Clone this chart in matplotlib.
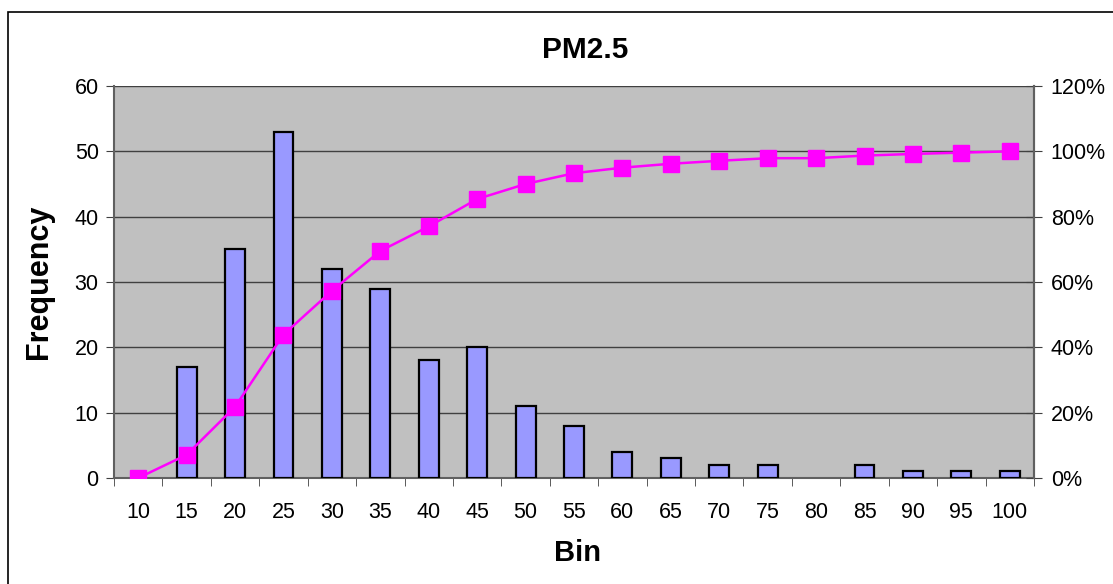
import matplotlib
matplotlib.use("Agg")
import matplotlib.pyplot as plt
from matplotlib.patches import Rectangle
from matplotlib.ticker import FixedLocator, PercentFormatter
import numpy as np

plt.rcParams['font.family'] = ['Liberation Sans', 'DejaVu Sans']

# data
bins = [10, 15, 20, 25, 30, 35, 40, 45, 50, 55, 60, 65, 70, 75, 80, 85, 90, 95, 100]
frequency = [0, 17, 35, 53, 32, 29, 18, 20, 11, 8, 4, 3, 2, 2, 0, 2, 1, 1, 1]
cumulative_pct = [0.0, 7.1, 21.8, 43.9, 57.3, 69.5, 77.0, 85.4, 90.0, 93.3,
                  95.0, 96.2, 97.1, 97.9, 97.9, 98.7, 99.2, 99.6, 100.0]

W, H = 1113, 584
fig = plt.figure(figsize=(W / 100, H / 100), dpi=100)

# outer chart frame
fig.patches.append(Rectangle((8 / W, -0.1), 1.2, 1 - 12 / H + 0.1, transform=fig.transFigure,
                             fill=False, edgecolor='black', linewidth=1.2))

ax = fig.add_axes([114 / W, 1 - 478 / H, 920 / W, 392 / H])
ax.set_facecolor('#C0C0C0')

x = np.arange(len(bins))
bars = ax.bar(x, frequency, width=0.41, color='#9999FF', edgecolor='black', linewidth=1.6, zorder=3)
for bar, f in zip(bars, frequency):
    if f == 0:
        bar.set_visible(False)  # excel draws nothing for empty bins

ax.set_xlim(-0.5, len(bins) - 0.5)
ax.set_ylim(0, 60)
ax.set_yticks(range(0, 61, 10))
ax.grid(axis='y', color='#404040', linewidth=1.0, zorder=1)
ax.set_xticks(x)
ax.set_xticklabels([str(b) for b in bins], fontsize=15.5)
ax.xaxis.set_minor_locator(FixedLocator(np.arange(-0.5, len(bins), 1)))
ax.tick_params(axis='x', which='major', length=0, pad=17)
ax.tick_params(axis='x', which='minor', length=6, direction='out', color='#404040')
ax.tick_params(axis='y', length=6, direction='out', labelsize=15.5, color='#404040', pad=5)

for side in ['left', 'bottom', 'right']:
    ax.spines[side].set_color('#606060')
    ax.spines[side].set_linewidth(1.5)
ax.spines['top'].set_visible(False)

fig.text(39 / W, 1 - 282 / H, 'Frequency', rotation=90, ha='center', va='center',
         fontsize=22, fontweight='bold')
fig.text(578 / W, 1 - 553 / H, 'Bin', ha='center', va='center', fontsize=21, fontweight='bold')
fig.text(585 / W, 1 - 50 / H, 'PM2.5', ha='center', va='center', fontsize=21.5, fontweight='bold')

ax2 = ax.twinx()
ax2.plot(x, cumulative_pct, color='#FF00FF', linewidth=1.8, marker='s',
         markersize=11, markerfacecolor='#FF00FF', markeredgecolor='#FF00FF', zorder=4)
ax2.set_ylim(0, 120)
ax2.set_yticks(range(0, 121, 20))
ax2.yaxis.set_major_formatter(PercentFormatter(decimals=0))
ax2.tick_params(axis='y', length=12, direction='inout', labelsize=15.5, color='#404040', pad=6)
for side in ['left', 'bottom', 'top']:
    ax2.spines[side].set_visible(False)
ax2.spines['right'].set_color('#606060')
ax2.spines['right'].set_linewidth(1.5)

fig.savefig('out.png', dpi=100)
